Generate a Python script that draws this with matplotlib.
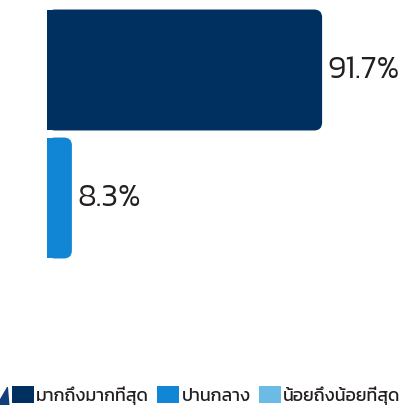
import matplotlib
matplotlib.use("Agg")
import matplotlib.pyplot as plt
import matplotlib.patches as patches

plt.rcParams['font.family'] = ['Kanit', 'DejaVu Sans']

# data
categories = ['มากถึงมากที่สุด', 'ปานกลาง', 'น้อยถึงน้อยที่สุด']
values     = [91.7, 8.3, 0.0]
labels     = ['91.7%', '8.3%', '']
colors     = ['#003060', '#1186d5', '#6cbbe6']
txtcolor   = '#231f20'

W, H = 403, 406
fig = plt.figure(figsize=(W/100, H/100), dpi=100)
ax = fig.add_axes([47/W, 1-391/H, 300/W, 384/H])

bars = ax.barh(range(len(categories)), values, height=0.945, color=colors)
ax.set_xlim(0, 100)
ax.set_ylim(2.5, -0.5)
ax.axis('off')

# afgeronde hoeken rechts (r in pixels)
r = 8
xpx = 300/100.0
ypx = 384/3.0
for b, c in zip(bars, colors):
    b.set_visible(False)
    x0, y0 = b.get_x(), b.get_y()
    w, h = b.get_width(), b.get_height()
    if w <= 0:
        continue
    rx = min(r/xpx, w/2.0)
    ax.add_patch(patches.FancyBboxPatch((x0, y0), w, h,
                 boxstyle='round,pad=0,rounding_size=%f' % rx,
                 mutation_aspect=xpx/ypx, linewidth=0, facecolor=c))
    ax.add_patch(patches.Rectangle((x0, y0), w/2.0, h, linewidth=0, facecolor=c))

for i, (v, t) in enumerate(zip(values, labels)):
    if t:
        ax.text(v + 5/xpx, i, t, va='center', ha='left', fontsize=23,
                fontweight=300, color=txtcolor)

# legenda
handles = [patches.Patch(facecolor=c, label=n) for c, n in zip(colors, categories)]
lgd = fig.legend(handles=handles, loc='lower left', bbox_to_anchor=(12/W, 0.5/H),
                 ncol=3, frameon=False, fontsize=12.8, handlelength=1.25,
                 handleheight=1.05, handletextpad=0.12, columnspacing=0.45,
                 borderaxespad=0, borderpad=0)
for t in lgd.get_texts():
    t.set_color(txtcolor)

# stukje logo linksonder
fig.add_artist(patches.Polygon([(0, 0), (9.5/W, 0), (8/W, 1-388/H), (7/W, 1-388/H), (0, 1-400/H)],
                               closed=True, transform=fig.transFigure,
                               facecolor='#123f7c', linewidth=0))

fig.savefig('out.png', dpi=100)
